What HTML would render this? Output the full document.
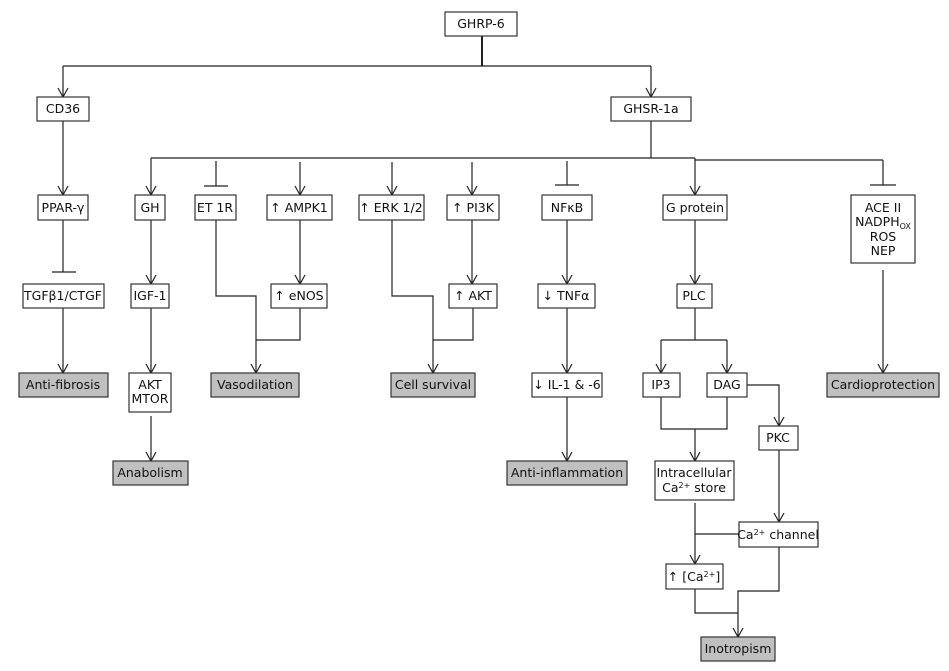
<!DOCTYPE html>
<html><head><meta charset="utf-8"><style>
html,body{margin:0;padding:0;background:#fff;width:949px;height:671px;overflow:hidden}
svg{display:block}
text{font-family:"DejaVu Sans","Liberation Sans",sans-serif;font-size:12.5px;fill:#111}
.b{fill:#fff;stroke:#333;stroke-width:1.2}
.g{fill:#c0c0c0;stroke:#333;stroke-width:1.2}
.l{fill:none;stroke:#222;stroke-width:1.2}
</style></head><body>
<svg width="949" height="671" viewBox="0 0 949 671" xmlns="http://www.w3.org/2000/svg">
<g class="l">
<path d="M482 36V66" stroke-width="2"/>
<path d="M63 66H651"/>
<path d="M63 66V97M651 66V97"/>
<path d="M63 121V195M63 220V272M52 272H76M63 308V373"/>
<path d="M651 121V158M151 158H695M695 160H883M883 160V185M870 185H896"/>
<path d="M151 158V195M216 161V186M204 186H228M300 162V195M392 162V195M472 162V195M567 161V185M555 185H579M695 158V195"/>
<path d="M151 220V284M151 308V373M151 416V461"/>
<path d="M216 220V296H256V373M300 220V284M300 308V340H256"/>
<path d="M392 220V296H433V373M472 220V284M473 308V340H433"/>
<path d="M567 220V284M567 308V373M567 397V461"/>
<path d="M695 220V284"/>
<path d="M695 308V340M661 340H727M661 340V373M727 340V373"/>
<path d="M747 385H779V426M661 397V429H727V397M695 429V461"/>
<path d="M779 450V522M695 503V564M695 534H739M779 547V591H738V637M695 589V613H738"/>
<path d="M883 270V373"/>
</g>
<g class="l">
<path d="M58 88L63 97L68 88M646 88L651 97L656 88"/>
<path d="M58 186L63 195L68 186"/>
<path d="M58 364L63 373L68 364"/>
<path d="M146 186L151 195L156 186M295 186L300 195L305 186M387 186L392 195L397 186M467 186L472 195L477 186M690 186L695 195L700 186"/>
<path d="M146 275L151 284L156 275M295 275L300 284L305 275M467 275L472 284L477 275M562 275L567 284L572 275M690 275L695 284L700 275"/>
<path d="M146 364L151 373L156 364M251 364L256 373L261 364M428 364L433 373L438 364M562 364L567 373L572 364M656 364L661 373L666 364M722 364L727 373L732 364M878 364L883 373L888 364"/>
<path d="M146 452L151 461L156 452M562 452L567 461L572 452M690 452L695 461L700 452M774 417L779 426L784 417"/>
<path d="M774 513L779 522L784 513M690 555L695 564L700 555M733 628L738 637L743 628"/>
</g>
<rect class="b" x="445" y="12" width="72" height="24"/><text x="481" y="28" text-anchor="middle">GHRP-6</text>
<rect class="b" x="37" y="97" width="52" height="24"/><text x="63" y="113" text-anchor="middle">CD36</text>
<rect class="b" x="611" y="97" width="80" height="24"/><text x="651" y="113" text-anchor="middle">GHSR-1a</text>
<rect class="b" x="38" y="195" width="50" height="25"/><text x="63" y="212" text-anchor="middle">PPAR-γ</text>
<rect class="b" x="135" y="195" width="30" height="25"/><text x="150" y="212" text-anchor="middle">GH</text>
<rect class="b" x="195" y="195" width="41" height="25"/><text x="215" y="212" text-anchor="middle">ET 1R</text>
<rect class="b" x="267" y="195" width="65" height="25"/><text x="299" y="212" text-anchor="middle">↑ AMPK1</text>
<rect class="b" x="359" y="195" width="65" height="25"/><text x="391" y="212" text-anchor="middle">↑ ERK 1/2</text>
<rect class="b" x="447" y="195" width="52" height="25"/><text x="473" y="212" text-anchor="middle">↑ PI3K</text>
<rect class="b" x="542" y="195" width="50" height="25"/><text x="567" y="212" text-anchor="middle">NFκB</text>
<rect class="b" x="663" y="195" width="64" height="25"/><text x="695" y="212" text-anchor="middle">G protein</text>
<rect class="b" x="851" y="195" width="64" height="68"/>
<text x="883" y="212" text-anchor="middle">ACE II</text>
<text x="883" y="226" text-anchor="middle">NADPH<tspan font-size="8" dy="3">OX</tspan></text>
<text x="883" y="241" text-anchor="middle">ROS</text>
<text x="883" y="255" text-anchor="middle">NEP</text>
<rect class="b" x="23" y="284" width="81" height="24"/><text x="63" y="300" text-anchor="middle">TGFβ1/CTGF</text>
<rect class="b" x="131" y="284" width="38" height="24"/><text x="150" y="300" text-anchor="middle">IGF-1</text>
<rect class="b" x="271" y="284" width="56" height="24"/><text x="299" y="300" text-anchor="middle">↑ eNOS</text>
<rect class="b" x="449" y="284" width="48" height="24"/><text x="473" y="300" text-anchor="middle">↑ AKT</text>
<rect class="b" x="538" y="284" width="57" height="24"/><text x="566" y="300" text-anchor="middle">↓ TNFα</text>
<rect class="b" x="677" y="284" width="35" height="24"/><text x="694" y="300" text-anchor="middle">PLC</text>
<rect class="g" x="19" y="373" width="89" height="24"/><text x="63" y="389" text-anchor="middle">Anti-fibrosis</text>
<rect class="b" x="129" y="373" width="42" height="39"/><text x="150" y="389" text-anchor="middle">AKT</text><text x="150" y="403" text-anchor="middle">MTOR</text>
<rect class="g" x="211" y="373" width="88" height="24"/><text x="255" y="389" text-anchor="middle">Vasodilation</text>
<rect class="g" x="391" y="373" width="84" height="24"/><text x="433" y="389" text-anchor="middle">Cell survival</text>
<rect class="b" x="532" y="373" width="70" height="24"/><text x="567" y="389" text-anchor="middle">↓ IL-1 &amp; -6</text>
<rect class="b" x="643" y="373" width="37" height="24"/><text x="661" y="389" text-anchor="middle">IP3</text>
<rect class="b" x="707" y="373" width="40" height="24"/><text x="727" y="389" text-anchor="middle">DAG</text>
<rect class="g" x="827" y="373" width="112" height="24"/><text x="883" y="389" text-anchor="middle">Cardioprotection</text>
<rect class="b" x="759" y="426" width="39" height="24"/><text x="778" y="442" text-anchor="middle">PKC</text>
<rect class="g" x="113" y="461" width="75" height="24"/><text x="150" y="477" text-anchor="middle">Anabolism</text>
<rect class="g" x="507" y="461" width="120" height="24"/><text x="567" y="477" text-anchor="middle">Anti-inflammation</text>
<rect class="b" x="655" y="461" width="79" height="39"/><text x="694" y="477" text-anchor="middle">Intracellular</text><text x="694" y="492" text-anchor="middle">Ca<tspan font-size="8" dy="-4">2+</tspan><tspan dy="4"> store</tspan></text>
<rect class="b" x="739" y="522" width="79" height="25"/><text x="778" y="539" text-anchor="middle">Ca<tspan font-size="8" dy="-4">2+</tspan><tspan dy="4"> channel</tspan></text>
<rect class="b" x="666" y="564" width="57" height="25"/><text x="694" y="581" text-anchor="middle">↑ [Ca<tspan font-size="8" dy="-4">2+</tspan><tspan dy="4">]</tspan></text>
<rect class="g" x="701" y="637" width="74" height="24"/><text x="738" y="653" text-anchor="middle">Inotropism</text>
</svg>
</body></html>
